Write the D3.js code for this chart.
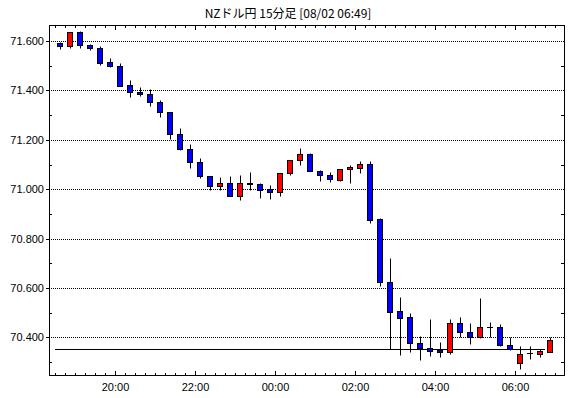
<!DOCTYPE html>
<html>
<head>
<meta charset="utf-8">
<script src="https://cdn.jsdelivr.net/npm/d3@7"></script>
<style>
  html, body { margin: 0; padding: 0; background: #fff; }
  svg { display: block; }
</style>
</head>
<body>
<svg id="chart" width="570" height="398"></svg>
<script>
const title = "NZドル円 15分足 [08/02 06:49]";

const times = [
  "08/01 18:30","08/01 18:45","08/01 19:00","08/01 19:15","08/01 19:30","08/01 19:45",
  "08/01 20:00","08/01 20:15","08/01 20:30","08/01 20:45","08/01 21:00","08/01 21:15",
  "08/01 21:30","08/01 21:45","08/01 22:00","08/01 22:15","08/01 22:30","08/01 22:45",
  "08/01 23:00","08/01 23:15","08/01 23:30","08/01 23:45","08/02 00:00","08/02 00:15",
  "08/02 00:30","08/02 00:45","08/02 01:00","08/02 01:15","08/02 01:30","08/02 01:45",
  "08/02 02:00","08/02 02:15","08/02 02:30","08/02 02:45","08/02 03:00","08/02 03:15",
  "08/02 03:30","08/02 03:45","08/02 04:00","08/02 04:15","08/02 04:30","08/02 04:45",
  "08/02 05:00","08/02 05:15","08/02 05:30","08/02 05:45","08/02 06:00","08/02 06:15",
  "08/02 06:30","08/02 06:45"
];
const open = [
  71.593,71.580,71.637,71.585,71.572,71.515,71.498,71.421,71.394,71.384,71.353,71.311,
  71.222,71.163,71.110,71.052,71.012,71.024,70.971,71.025,71.020,71.000,70.988,71.065,
  71.118,71.143,71.073,71.058,71.039,71.080,71.088,71.101,70.878,70.623,70.509,70.481,
  70.376,70.359,70.348,70.343,70.457,70.424,70.400,70.441,70.441,70.371,70.298,70.336,
  70.335,70.343
];
const high = [
  71.596,71.637,71.641,71.590,71.581,71.531,71.511,71.443,71.413,71.404,71.360,71.311,
  71.246,71.185,71.128,71.052,71.049,71.053,71.059,71.068,71.027,71.016,71.065,71.118,
  71.167,71.147,71.079,71.069,71.081,71.097,71.115,71.115,70.882,70.723,70.564,70.501,
  70.405,70.473,70.381,70.473,70.482,70.457,70.561,70.464,70.454,70.400,70.367,70.367,
  70.355,70.401
];
const low = [
  71.567,71.570,71.570,71.562,71.505,71.493,71.419,71.375,71.378,71.338,71.292,71.203,
  71.160,71.086,71.044,70.995,70.996,70.971,70.958,70.999,70.963,70.961,70.974,71.056,
  71.097,71.073,71.033,71.031,71.035,71.027,71.064,70.862,70.609,70.355,70.328,70.342,
  70.310,70.324,70.321,70.333,70.400,70.374,70.396,70.400,70.366,70.351,70.272,70.313,
  70.321,70.343
];
const close = [
  71.578,71.637,71.584,71.572,71.513,71.497,71.420,71.393,71.384,71.352,71.311,71.222,
  71.163,71.110,71.052,71.012,71.024,70.971,71.024,71.020,70.999,70.988,71.065,71.118,
  71.143,71.073,71.057,71.041,71.081,71.089,71.101,70.876,70.623,70.504,70.480,70.376,
  70.358,70.347,70.343,70.457,70.424,70.400,70.441,70.441,70.371,70.355,70.335,70.336,
  70.344,70.388
];
const refLine = 70.355;
const yMajorTicks = [70.4, 70.6, 70.8, 71.0, 71.2, 71.4, 71.6];
const yMinorTicks = [70.3, 70.5, 70.7, 70.9, 71.1, 71.3, 71.5];
const xLabelTimes = ["08/01 20:00","08/01 22:00","08/02 00:00","08/02 02:00","08/02 04:00","08/02 06:00"];

(function () {
const parse = d3.timeParse("%m/%d %H:%M");
const data = times.map((t, i) => ({
  t: parse(t), o: open[i], h: high[i], l: low[i], c: close[i]
}));

const L = 49, R = 564, T = 25, B = 375;
const svg = d3.select("#chart");

const x = d3.scaleTime()
  .domain([parse("08/01 18:21"), d3.timeSecond.offset(parse("08/02 07:13"), 30)])
  .range([L, R]);
const y = d3.scaleLinear().domain([70.248, 71.665]).range([B, T]);
const half = 7.5 * 60 * 1000;
const cx = d => Math.round(x(new Date(+d.t + half)));
const py = v => Math.round(y(v)) + 0.5;

// title
svg.append("text")
  .attr("x", 288).attr("y", 18)
  .attr("text-anchor", "middle")
  .style("font-family", "'Noto Sans CJK JP', sans-serif")
  .style("font-size", "12px")
  .attr("fill", "#000")
  .text(title);

// gridlines
svg.append("g").selectAll("line").data(yMajorTicks).join("line")
  .attr("x1", L).attr("x2", R)
  .attr("y1", d => py(d)).attr("y2", d => py(d))
  .attr("stroke", "#000").attr("stroke-width", 1)
  .attr("stroke-dasharray", "1,1");

// x tick times
const xTicks = d3.timeMinute.every(15).range(parse("08/01 18:30"), parse("08/02 07:01"));
const isMajor = d => d.getMinutes() === 0 && d.getHours() % 2 === 0;

const xb = svg.append("g").attr("transform", `translate(0,${B})`)
  .call(d3.axisBottom(x).tickValues(xTicks).tickSizeInner(0).tickSizeOuter(0).tickFormat(""));
xb.select(".domain").remove();
xb.selectAll(".tick").attr("transform", d => `translate(${Math.round(x(d)) + 0.5},0)`);
xb.selectAll(".tick line").attr("y2", d => isMajor(d) ? -4 : -2).attr("stroke", "#000");

const xt = svg.append("g").attr("transform", `translate(0,${T})`)
  .call(d3.axisTop(x).tickValues(xTicks).tickSizeInner(0).tickSizeOuter(0).tickFormat(""));
xt.select(".domain").remove();
xt.selectAll(".tick").attr("transform", d => `translate(${Math.round(x(d)) + 0.5},0)`);
xt.selectAll(".tick line").attr("y2", d => isMajor(d) ? 5 : 3).attr("stroke", "#000");

// x labels
const xl = svg.append("g").attr("transform", `translate(0,${B})`)
  .call(d3.axisBottom(x).tickValues(xLabelTimes.map(parse)).tickSize(0).tickPadding(8)
    .tickFormat(d3.timeFormat("%H:%M")));
xl.select(".domain").remove();
xl.selectAll("text")
  .style("font-family", "'Liberation Sans', Arial, sans-serif")
  .style("font-size", "11px").attr("fill", "#000");

// y axis left: major outward with labels
const yl = svg.append("g").attr("transform", `translate(${L},0)`)
  .call(d3.axisLeft(y).tickValues(yMajorTicks).tickSize(3).tickPadding(2)
    .tickFormat(d3.format(".3f")));
yl.select(".domain").remove();
yl.selectAll(".tick").attr("transform", d => `translate(0,${py(d)})`);
yl.selectAll(".tick line").attr("stroke", "#000");
yl.selectAll("text")
  .style("font-family", "'Liberation Sans', Arial, sans-serif")
  .style("font-size", "11px").attr("fill", "#000");

// minor ticks left & right (inside)
const ylm = svg.append("g").attr("transform", `translate(${L},0)`)
  .call(d3.axisRight(y).tickValues(yMinorTicks).tickSize(3).tickFormat(""));
ylm.select(".domain").remove();
ylm.selectAll(".tick").attr("transform", d => `translate(0,${py(d)})`);
ylm.selectAll(".tick line").attr("stroke", "#000");

const yrm = svg.append("g").attr("transform", `translate(${R},0)`)
  .call(d3.axisLeft(y).tickValues(yMinorTicks).tickSize(3).tickFormat(""));
yrm.select(".domain").remove();
yrm.selectAll(".tick").attr("transform", d => `translate(0,${py(d)})`);
yrm.selectAll(".tick line").attr("stroke", "#000");

// frame
svg.append("rect")
  .attr("x", L + 0.5).attr("y", T + 0.5)
  .attr("width", R - L).attr("height", B - T)
  .attr("fill", "none").attr("stroke", "#000").attr("stroke-width", 1);

// reference line
svg.append("line")
  .attr("x1", Math.round(x(data[0].t))).attr("x2", Math.round(x(data[data.length - 1].t)))
  .attr("y1", py(refLine)).attr("y2", py(refLine))
  .attr("stroke", "#000").attr("stroke-width", 1);

// candles
const g = svg.append("g");
g.selectAll("line.wick").data(data).join("line")
  .attr("class", "wick")
  .attr("x1", d => cx(d) + 0.5).attr("x2", d => cx(d) + 0.5)
  .attr("y1", d => py(d.h)).attr("y2", d => py(d.l))
  .attr("stroke", "#000").attr("stroke-width", 1);

const bodyH = d => py(Math.min(d.o, d.c)) - py(Math.max(d.o, d.c));
g.selectAll("rect.body").data(data.filter(d => bodyH(d) >= 1)).join("rect")
  .attr("class", "body")
  .attr("x", d => cx(d) - 3 + 0.5)
  .attr("width", 5)
  .attr("y", d => py(Math.max(d.o, d.c)))
  .attr("height", d => bodyH(d))
  .attr("fill", d => d.c > d.o ? "#ff0000" : "#0000ff")
  .attr("stroke", "#000").attr("stroke-width", 1);

// doji bodies: flat black bars
g.selectAll("line.doji").data(data.filter(d => bodyH(d) < 1)).join("line")
  .attr("class", "doji")
  .attr("x1", d => cx(d) - 3).attr("x2", d => cx(d) + 3)
  .attr("y1", d => py(d.o)).attr("y2", d => py(d.o))
  .attr("stroke", "#000").attr("stroke-width", 1);
})();
</script>
</body>
</html>
